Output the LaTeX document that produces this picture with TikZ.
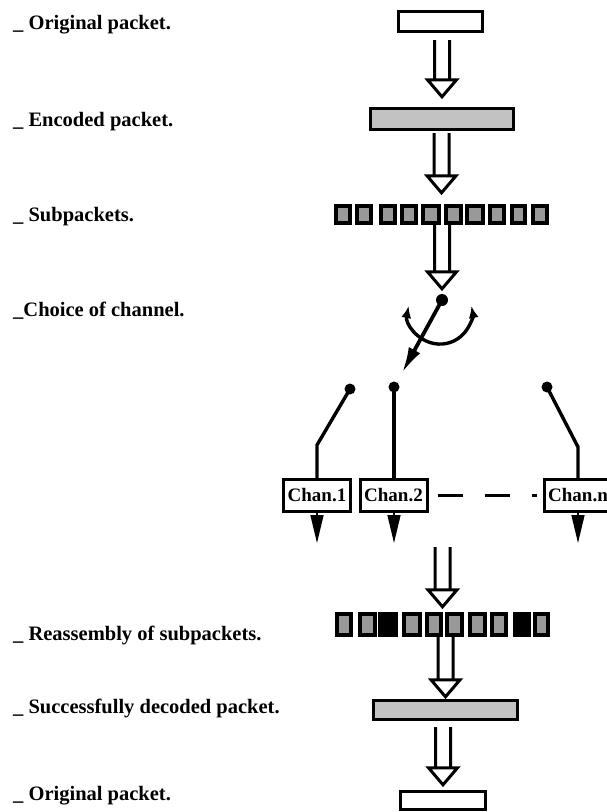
\documentclass[tikz,border=0pt]{standalone}
\usepackage{fontspec}
\setmainfont{Liberation Serif}
\usetikzlibrary{arrows.meta,calc}
\begin{document}
\begin{tikzpicture}[x=1pt,y=-1pt,
  lbl/.style={anchor=base west, inner sep=0pt, font=\bfseries\fontsize{20.5}{24}\selectfont},
  packet/.style={draw, line width=3.4pt, inner sep=0pt},
  chip/.style={draw, line width=4pt, inner sep=0pt, minimum height=17pt},
  chan/.style={draw, line width=3pt, inner sep=0pt, fill=white,
    minimum width=67pt, minimum height=32pt, font=\bfseries\fontsize{19}{22}\selectfont},
  contact/.style={circle, fill, inner sep=0pt, minimum size=11pt},
  wire/.style={line width=3.4pt},
  chanout/.style={line width=1.5pt, -{Triangle[length=28pt,width=13pt]}},
  lever/.style={line width=3.8pt, -{Latex[length=26pt,width=13pt]}},
  swing/.style={line width=3.4pt, {Latex[length=12pt,width=10pt]}-{Latex[length=12pt,width=10pt]}},
  dashline/.style={line width=3.5pt, dash pattern=on 25pt off 22pt, dash phase=38pt, shorten >=6pt},
  bigarrow/.style={line width=3pt, to path={
    let \p1=(\tikztostart), \p2=(\tikztotarget) in
    (\x2-7.5pt,\y1) -- (\x2-7.5pt,\y2+17pt)
    (\x2+7.5pt,\y1) -- (\x2+7.5pt,\y2+17pt)
    (\x2-14.5pt,\y2+17pt) -- (\x2+14.5pt,\y2+17pt) -- (\x2,\y2) -- cycle}}
]
\useasboundingbox (0,0) rectangle (607,812);

% step labels
\node[lbl] (t1) at (13,29)  {\_ Original packet.};
\node[lbl] (t2) at (13,126) {\_ Encoded packet.};
\node[lbl] (t3) at (13,221) {\_ Subpackets.};
\node[lbl] (t4) at (13,316) {\_Choice of channel.};
\node[lbl] (t5) at (13,640) {\_ Reassembly of subpackets.};
\node[lbl] (t6) at (13,713) {\_ Successfully decoded packet.};
\node[lbl] (t7) at (13,800) {\_ Original packet.};

% packets
\node[packet, minimum width=84pt, minimum height=20pt] (orig) at (440.5,21.5) {};
\node[packet, fill=black!24, minimum width=143pt, minimum height=21pt] (enc) at (442,119) {};
\node[packet, fill=black!24, minimum width=144pt, minimum height=19pt] (dec) at (445.5,710) {};
\node[packet, minimum width=85pt, minimum height=18pt] (fin) at (443,800.5) {};

% subpackets
\node[inner sep=0pt, minimum width=215pt, minimum height=21pt] (subrow) at (441.5,214.5) {};
\foreach \l/\r [count=\i] in {334/352,355/373,379/397,400/418,421/441,444/463,465/485,488/506,510/527,531/549}
  \node[chip, fill=black!40, minimum width={(\r-\l-4)*1pt}] (s\i) at ({(\l+\r)/2},214.5) {};

% reassembled subpackets, two of them lost
\node[inner sep=0pt, minimum width=215pt, minimum height=25pt] (reas) at (442.5,624.5) {};
\foreach \l/\r/\c [count=\i] in {335/353/black!40,358/377/black!40,378/398/black,402/422/black!40,425/443/black!40,
    445/464/black!40,468/487/black!40,490/508/black!40,513/531/black,533/550/black!40}
  \node[chip, fill=\c, minimum width={(\r-\l-4)*1pt}, minimum height=21pt] (r\i) at ({(\l+\r)/2},624.5) {};

% switch
\node[contact, minimum size=12pt] (pivot) at (442,300) {};
\coordinate (arcL) at (408.6,306);
\coordinate (tip) at (402,373);
\draw[swing] (arcL) arc[start angle=169, end angle=371, radius=32pt];
\draw[lever] (pivot.center) -- (tip);

% channels
\node[chan] (c1) at (317,495.5) {Chan.1};
\node[chan] (c2) at (393.5,495.5) {Chan.2};
\node[chan] (cn) at (578,495.5) {Chan.n};
\node[contact] (k1) at (350,389) {};
\node[contact] (k2) at (394,387) {};
\node[contact] (kn) at (547,387) {};
\draw[wire] (k1.center) -- (c1.north |- 0,445) -- (c1.north);
\draw[wire] (k2.center) -- (k2 |- c2.north);
\draw[wire] (kn.center) -- (cn.north |- 0,447) -- (cn.north);
\draw[dashline] (c2.east) -- (cn.west);
\draw[chanout] (c1.south) -- ([yshift=-30pt]c1.south);
\draw[chanout] (k2 |- c2.south) -- ([yshift=-30pt]k2 |- c2.south);
\draw[chanout] (cn.south) -- ([yshift=-30pt]cn.south);
\coordinate (merge) at (443,547);

% hollow flow arrows
\draw[bigarrow] ([yshift=-7pt]orig.south) to ([yshift=10pt]enc.north);
\draw[bigarrow] ([yshift=-2pt]enc.south) to ([yshift=11pt]subrow.north);
\draw[bigarrow] (subrow.south) to ([yshift=5pt]pivot.north);
\draw[bigarrow] (merge) to ([yshift=5pt]reas.north);
\draw[bigarrow] (reas.south) to ([yshift=2pt]dec.north);
\draw[bigarrow] ([yshift=-6pt]dec.south) to ([yshift=5pt]fin.north);
\end{tikzpicture}
\end{document}
